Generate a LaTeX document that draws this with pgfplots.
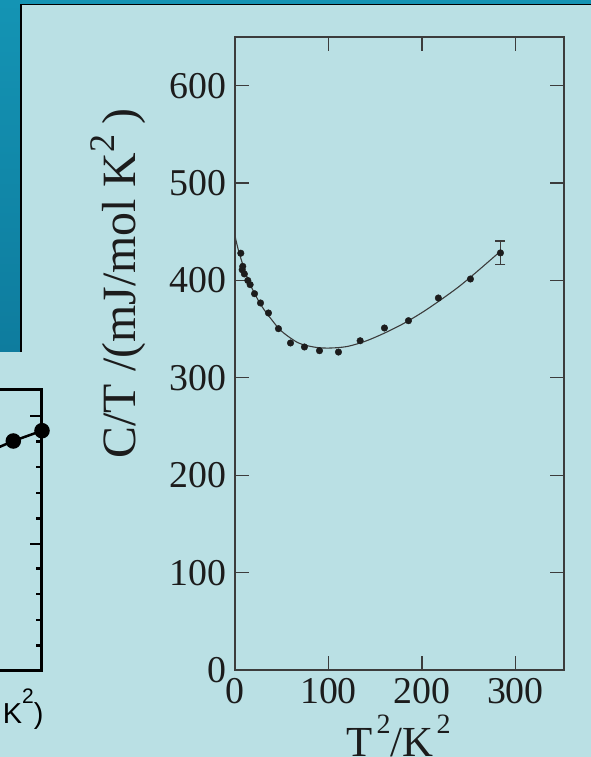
\documentclass[border=0pt]{standalone}
\usepackage{pgfplots}
\pgfplotsset{compat=1.18}
\usepackage{fontspec}
\setmainfont{Liberation Serif}
\newfontfamily\sansf{Liberation Sans}
\definecolor{bgblue}{RGB}{186,224,228}
\definecolor{tealtop}{RGB}{20,148,180}
\definecolor{tealbot}{RGB}{14,124,158}
\definecolor{axgray}{RGB}{60,60,60}
\definecolor{ink}{RGB}{28,28,28}
% superscript: #1 raise, #2 size
\newcommand{\sq}[2]{\raisebox{#1}{\fontsize{#2}{#2}\selectfont 2}}

\begin{document}
\begin{tikzpicture}
\useasboundingbox (0,0) rectangle (591bp,-757bp);
\clip (0,0) rectangle (591bp,-757bp);
\shade[top color=tealtop,bottom color=tealbot] (0,0) rectangle (591bp,-352bp);
\fill[bgblue] (21bp,-4.5bp) rectangle (591bp,-757bp);
\fill[bgblue] (0,-352bp) rectangle (21bp,-757bp);
\draw[black,line width=1.6bp] (21bp,-352bp) -- (21bp,-4.5bp) -- (591bp,-4.5bp);

% partial neighbouring chart (left)
\begin{axis}[at={(-200bp,-670bp)},anchor=south west,
  scale only axis,width=242bp,height=281bp,
  xmin=0,xmax=242,ymin=0,ymax=281,clip=false,
  xtick=\empty,ytick={126,254},
  minor ytick={24.6,50.2,75.8,101.4,151.6,177.2,202.8,228.4},
  ytick pos=right,yticklabels={},
  tick align=inside,major tick length=12bp,minor tick length=6bp,
  axis line style={black,line width=3bp},
  every tick/.style={black,line width=2.5bp}]
\addplot[black,line width=2.5bp,mark=*,mark size=6.5bp] coordinates {(170,210.4)(213.3,229)(242,239.3)};
\end{axis}
\node[anchor=base east,font=\sansf\fontsize{29}{30}\selectfont,text=black] at (47bp,-723bp) {K\sq{20bp}{21bp})};

% main chart
\begin{axis}[at={(235bp,-670bp)},anchor=south west,
  scale only axis,width=329bp,height=633bp,
  xmin=0,xmax=352,ymin=0,ymax=650,
  xtick={0,100,200,300},ytick={0,100,...,600},
  yticklabels={0\hspace{6bp},100,200,300,400,500,600},
  tick align=inside,major tick length=14bp,
  axis line style={axgray,line width=1.2bp},
  every tick/.style={axgray,line width=1.2bp},
  tick label style={font=\fontsize{38}{40}\selectfont,text=ink},
  yticklabel style={xshift=-5bp},
  xticklabel style={yshift=-5bp},
  /pgf/number format/assume math mode=true,
  xlabel={T\kern4bp\sq{23bp}{28bp}/K\kern3bp\sq{23bp}{28bp}},
  xlabel style={at={(axis description cs:0.497,-0.1367)},anchor=base,font=\fontsize{43}{44}\selectfont,text=ink},
  ylabel={C/T /(mJ/mol K\sq{21bp}{36bp}\hspace{0.22em})},
  ylabel style={at={(axis description cs:-0.356,0.611)},anchor=center,font=\fontsize{48}{50}\selectfont,text=ink}]
\addplot[axgray,line width=1.1bp,smooth,tension=0.5] coordinates {
(0,446)(3.4,432)(10.5,410)(17.6,393)(28.3,374)(39,360)(49.7,348)(67.6,336)(85.3,331.5)(101,330.6)(120,332.2)(140,337.8)(160,346)(180,355.6)(200,367)(220,380)(240,394)(260,410)(284,430)};
\addplot[only marks,mark=*,mark size=3.3bp,ink] coordinates {
(6.2,428)(8.3,414.5)(7.7,411)(10,406.7)(13.7,400)(16.2,395.7)(20.9,386.4)(27.3,376.9)(35.8,366.6)(46.5,350.5)(59.4,335.8)(74.3,331.7)(90.4,327.9)(110.7,326.5)(133.9,338.1)(159.9,351.2)(185.6,358.7)(217.6,382)(251.9,401.5)};
\addplot[only marks,mark=*,mark size=3.3bp,ink,
  error bars/.cd,y dir=both,y explicit,
  error bar style={axgray,line width=1.4bp},
  error mark options={rotate=90,mark size=5bp,axgray,line width=1.2bp}]
  coordinates {(284,428.3) +- (0,12.2)};
\end{axis}
\end{tikzpicture}
\end{document}
